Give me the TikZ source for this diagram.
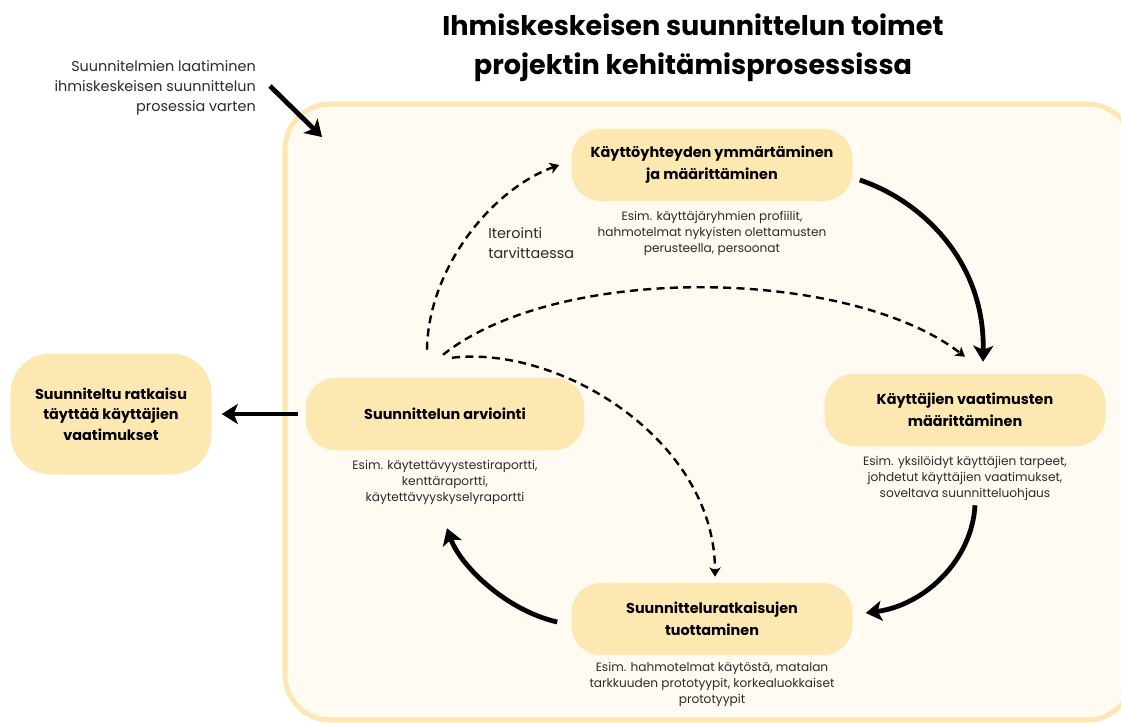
\documentclass[tikz,border=0pt]{standalone}
\usepackage{fontspec}
\setmainfont{Poppins}
\usetikzlibrary{arrows.meta,positioning,calc}
\definecolor{pill}{HTML}{FDE8B2}
\definecolor{frameline}{HTML}{FDE8B5}
\definecolor{panel}{HTML}{FFFBF2}
\definecolor{notegray}{HTML}{2B2B2B}

\begin{document}
\begin{tikzpicture}[
  x=0.75pt, y=-0.75pt,
  stage/.style={fill=pill, rounded corners=22pt, minimum width=210.75pt, minimum height=54pt, align=center, inner sep=0pt, font=\bfseries\fontsize{10.8}{16.5}\selectfont},
  goal/.style={stage, rounded corners=30pt, minimum width=150.75pt, minimum height=90.75pt, font=\bfseries\fontsize{10.8}{15.5}\selectfont},
  note/.style={align=center, inner sep=0pt, text=notegray, font=\fontsize{9.1}{12}\selectfont},
  sidetext/.style={inner sep=0pt, text=notegray, font=\fontsize{10.8}{15}\selectfont},
  heading/.style={align=center, inner sep=0pt, font=\bfseries\fontsize{20.3}{29}\selectfont},
  flow/.style={-{Stealth[length=12pt, width=15pt, inset=3pt]}, line width=3.6pt},
  iter/.style={-{Stealth[length=7pt, width=8.5pt, inset=2pt]}, line width=1.8pt, dash pattern=on 6pt off 4pt}
]
\useasboundingbox (0,0) rectangle (1121,722);
\draw[frameline, line width=3.8pt, fill=panel, rounded corners=34pt] (285,104) rectangle (1133,720);

\node[heading] (head) at (693,48) {Ihmiskeskeisen suunnittelun toimet\\projektin kehitämisprosessissa};
\node[sidetext, align=right, anchor=east] (intro) at (256,88) {Suunnitelmien laatiminen\\ihmiskeskeisen suunnittelun\\prosessia varten};
\coordinate (entry) at (322,137);

\node[stage] (ctx) at (712,165) {Käyttöyhteyden ymmärtäminen\\ja määrittäminen};
\node[note, below=7pt of ctx] (ctxnote) {Esim. käyttäjäryhmien profiilit,\\hahmotelmat nykyisten olettamusten\\perusteella, persoonat};
\node[stage] (req) at (965,410) {Käyttäjien vaatimusten\\määrittäminen};
\node[note, below=7pt of req] (reqnote) {Esim. yksilöidyt käyttäjien tarpeet,\\johdetut käyttäjien vaatimukset,\\soveltava suunnitteluohjaus};
\node[stage] (sol) at (712,619) {Suunnitteluratkaisujen\\tuottaminen};
\node[note, below=5pt of sol] (solnote) {Esim. hahmotelmat käytöstä, matalan\\tarkkuuden prototyypit, korkealuokkaiset\\prototyypit};
\node[stage, minimum width=208.5pt] (eva) at (445,414) {Suunnittelun arviointi};
\node[note, below=7pt of eva] (evanote) {Esim. käytettävyystestiraportti,\\kenttäraportti,\\käytettävyyskyselyraportti};
\node[goal] (done) at (111,414) {Suunniteltu ratkaisu\\täyttää käyttäjien\\vaatimukset};
\node[sidetext, align=left, anchor=west] (iterlbl) at (488,243) {Iterointi\\tarvittaessa};

\draw[flow] ($(intro.east)+(14,-2)$) -- (entry);
\draw[flow] ($(eva.west)+(-8,0)$) -- ($(done.east)+(10,0)$);
\draw[flow] ($(ctx.east)+(7,15)$) .. controls (920,200) and (985,260) .. ($(req.north)+(18,-12)$);
\draw[flow] ($(req.south)+(10,59)$) .. controls (972,560) and (925,605) .. ($(sol.east)+(13,-6)$);
\draw[flow] ($(sol.west)+(-14,3)$) .. controls (505,610) and (460,565) .. ($(eva.south)+(2,78)$);

\draw[iter] ($(eva.north)+(-18,-28)$) .. controls (428,270) and (490,190) .. ($(ctx.west)+(-12,0)$);
\draw[iter] ($(eva.north)+(-2,-23)$) .. controls (560,262) and (850,268) .. ($(req.north)+(0,-17)$);
\draw[iter] ($(eva.north)+(7,-20)$) .. controls (560,345) and (715,440) .. ($(sol.north)+(3,-6)$);
\end{tikzpicture}
\end{document}
